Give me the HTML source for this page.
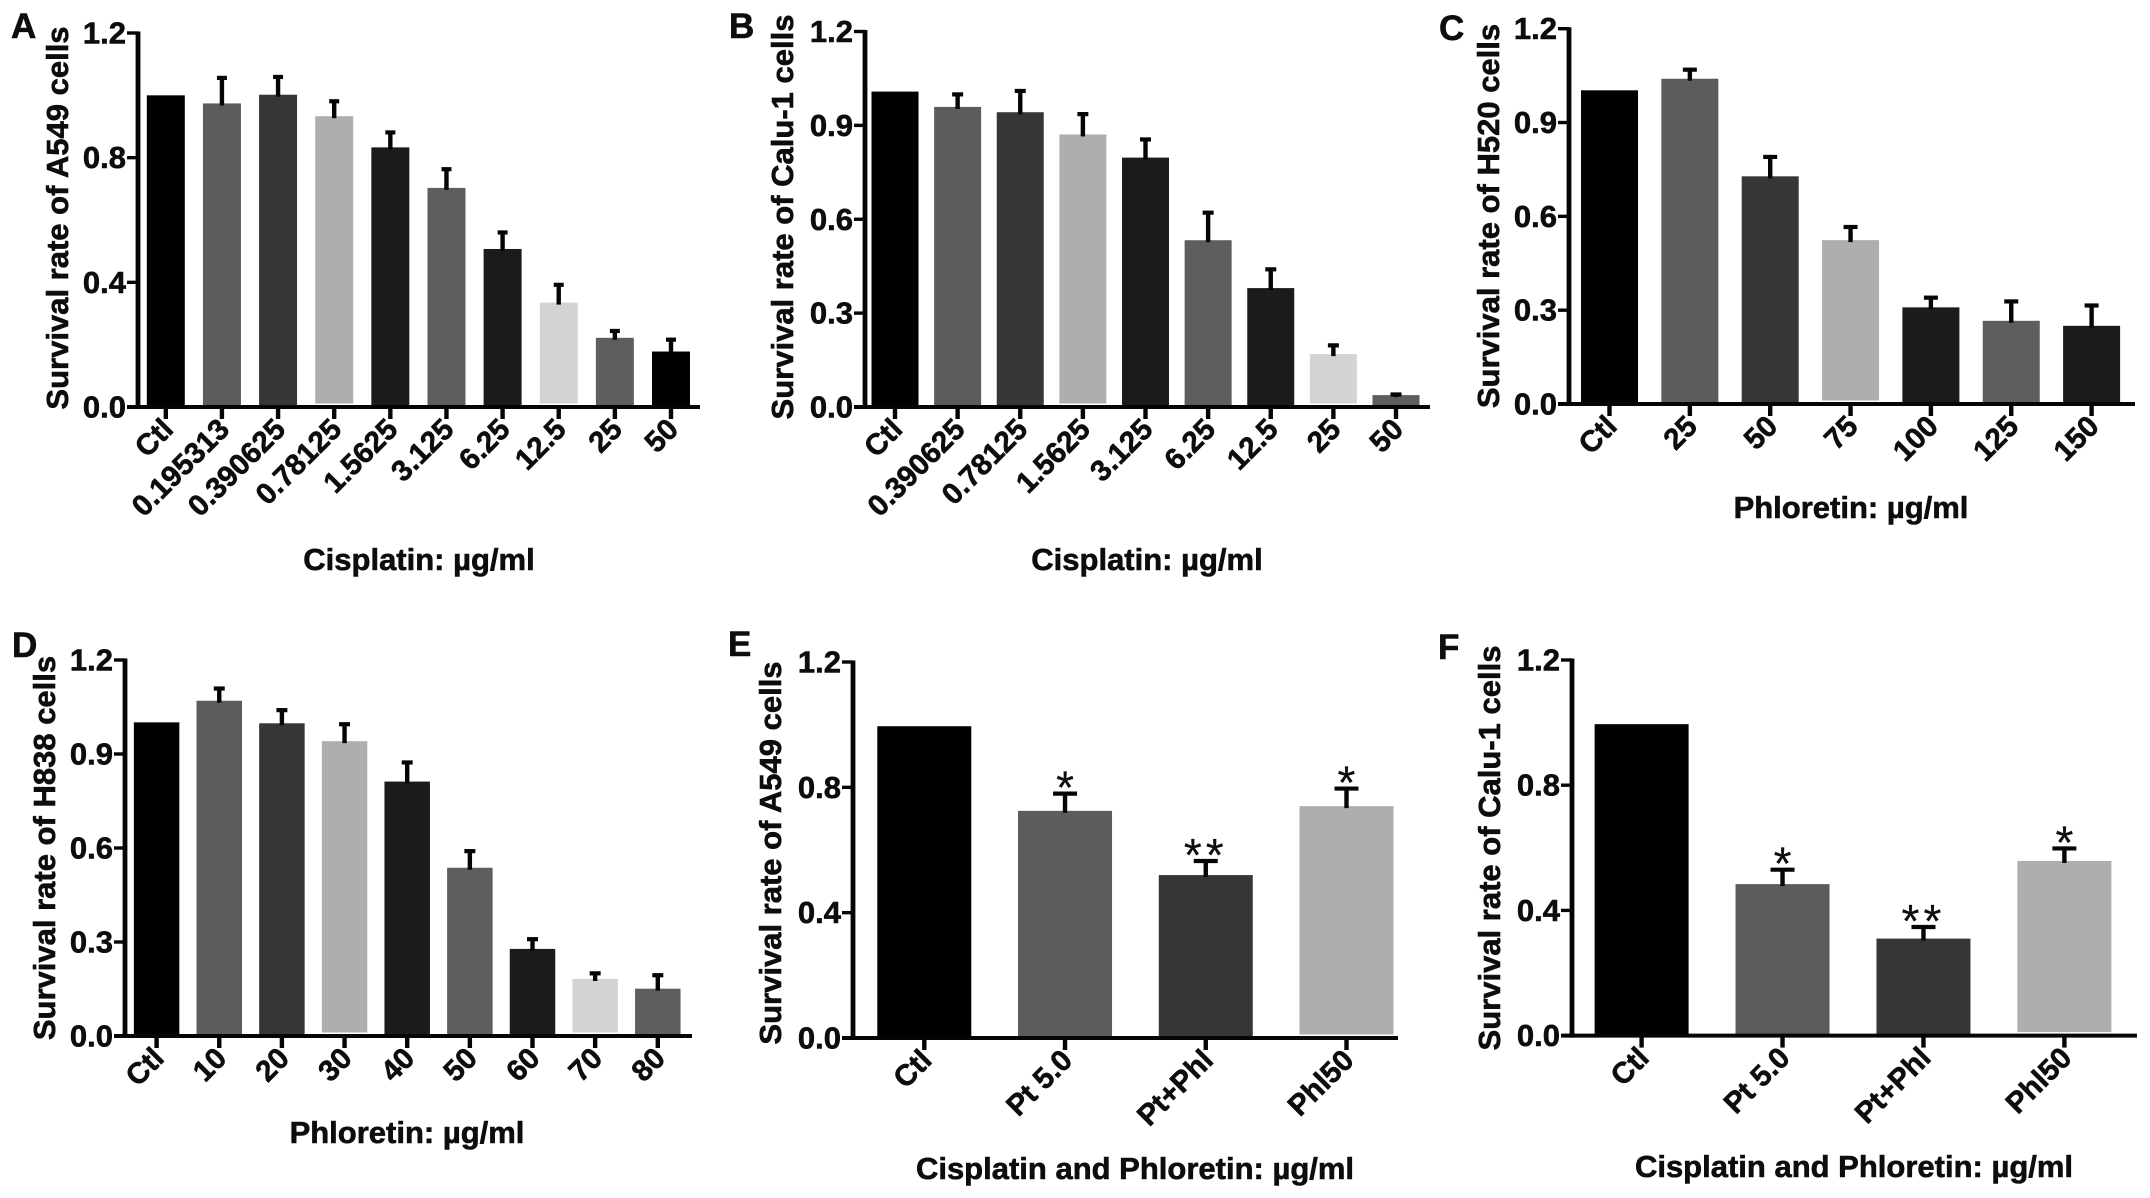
<!DOCTYPE html>
<html lang="en">
<head>
<meta charset="utf-8">
<title>Survival rate of lung cancer cells</title>
<style>
html,body{margin:0;padding:0;background:#fff;}
svg{display:block;width:2150px;height:1198px;}
text{font-family:"Liberation Sans",sans-serif;font-weight:700;fill:#0d0d0d;stroke:#0d0d0d;stroke-width:0.6px;}
</style>
</head>
<body>
<svg id="figure" xmlns="http://www.w3.org/2000/svg" width="2150" height="1198" viewBox="0 0 2150 1198">
  <rect x="0" y="0" width="2150" height="1198" fill="#fff"/>
  <g id="marks"></g>

  <text x="11" y="38" font-size="35">A</text>
  <text x="729" y="38" font-size="35">B</text>
  <text x="1439" y="40" font-size="35">C</text>
  <text x="12" y="657" font-size="35">D</text>
  <text x="728" y="656" font-size="35">E</text>
  <text x="1438" y="659" font-size="35">F</text>

  <text font-size="31" text-anchor="middle" transform="translate(68 218) rotate(-90)">Survival rate of A549 cells</text>
  <text font-size="31" text-anchor="middle" transform="translate(793 217) rotate(-90)">Survival rate of Calu-1 cells</text>
  <text font-size="31" text-anchor="middle" transform="translate(1499 216) rotate(-90)">Survival rate of H520 cells</text>
  <text font-size="31" text-anchor="middle" transform="translate(55 848) rotate(-90)">Survival rate of H838 cells</text>
  <text font-size="31" text-anchor="middle" transform="translate(781 853) rotate(-90)">Survival rate of A549 cells</text>
  <text font-size="31" text-anchor="middle" transform="translate(1500 848) rotate(-90)">Survival rate of Calu-1 cells</text>

  <text font-size="31" text-anchor="middle" x="419" y="570">Cisplatin: µg/ml</text>
  <text font-size="31" text-anchor="middle" x="1147" y="570">Cisplatin: µg/ml</text>
  <text font-size="31" text-anchor="middle" x="1851" y="518">Phloretin: µg/ml</text>
  <text font-size="31" text-anchor="middle" x="407" y="1143">Phloretin: µg/ml</text>
  <text font-size="31" text-anchor="middle" x="1135" y="1179">Cisplatin and Phloretin: µg/ml</text>
  <text font-size="31" text-anchor="middle" x="1854" y="1177">Cisplatin and Phloretin: µg/ml</text>
</svg>
<script>
const categoriesA = ["Ctl","0.195313","0.390625","0.78125","1.5625","3.125","6.25","12.5","25","50"];
const valuesA = [1.0,0.974,1.002,0.933,0.833,0.703,0.507,0.335,0.222,0.178];
const errorsA = [0,0.082,0.057,0.048,0.048,0.06,0.053,0.057,0.022,0.038];
const yTicksA = [0,0.4,0.8,1.2];

const categoriesB = ["Ctl","0.390625","0.78125","1.5625","3.125","6.25","12.5","25","50"];
const valuesB = [1.008,0.959,0.942,0.871,0.797,0.533,0.38,0.169,0.038];
const errorsB = [0,0.04,0.068,0.065,0.058,0.088,0.06,0.028,0.002];
const yTicksB = [0,0.3,0.6,0.9,1.2];

const categoriesC = ["Ctl","25","50","75","100","125","150"];
const valuesC = [1.003,1.04,0.728,0.524,0.309,0.266,0.25];
const errorsC = [0,0.029,0.062,0.042,0.031,0.062,0.065];
const yTicksC = [0,0.3,0.6,0.9,1.2];

const categoriesD = ["Ctl","10","20","30","40","50","60","70","80"];
const valuesD = [1.001,1.07,0.998,0.941,0.812,0.537,0.278,0.182,0.151];
const errorsD = [0,0.039,0.042,0.054,0.061,0.053,0.031,0.018,0.043];
const yTicksD = [0,0.3,0.6,0.9,1.2];

const categoriesE = ["Ctl","Pt 5.0","Pt+Phl","Phl50"];
const valuesE = [0.995,0.725,0.52,0.74];
const errorsE = [0,0.055,0.045,0.056];
const significanceE = ["","*","**","*"];
const yTicksE = [0,0.4,0.8,1.2];

const categoriesF = ["Ctl","Pt 5.0","Pt+Phl","Phl50"];
const valuesF = [0.995,0.484,0.31,0.558];
const errorsF = [0,0.046,0.037,0.04];
const significanceF = ["","*","**","*"];
const yTicksF = [0,0.4,0.8,1.2];

const barShades = ["#000000","#5c5c5c","#363636","#aeaeae","#1b1b1b","#5e5e5e","#1b1b1b","#d3d3d3","#5e5e5e","#000000"];
const yMax = 1.2;
const NS = "http://www.w3.org/2000/svg";
const marks = document.getElementById("marks");

function make(tag, parent, attrs) {
  const el = document.createElementNS(NS, tag);
  for (const key in attrs) el.setAttribute(key, attrs[key]);
  parent.appendChild(el);
  return el;
}

function drawPanel(id, cats, vals, errs, ticks, sig, box) {
  const group = make("g", marks, {});
  
  
  const step = (box.lastCenter - box.firstCenter) / (cats.length - 1);
  const xPos = i => box.firstCenter + i * step;
  const yPos = v => box.base - (v / yMax) * (box.base - box.top);

  vals.forEach((v, i) => {
    const isLight = barShades[i] === "#aeaeae" || barShades[i] === "#d3d3d3";
    const bar = make("rect", group, {
      x: xPos(i) - box.barWidth / 2,
      y: yPos(v),
      width: box.barWidth,
      height: box.base - yPos(v) - (isLight ? 3.5 : 0),
      fill: barShades[i]
    });
    
    

    if (errs[i] > 0) {
      const topY = yPos(v + errs[i]);
      const stem = make("line", group, {
        x1: xPos(i), x2: xPos(i), y1: yPos(v) + 2, y2: topY,
        stroke: "#050505", "stroke-width": 4.4
      });
      
      
      const cap = make("line", group, {
        x1: xPos(i) - box.capWidth / 2, x2: xPos(i) + box.capWidth / 2, y1: topY, y2: topY,
        stroke: "#050505", "stroke-width": 4.2
      });
      
      
    }

    if (sig && sig[i]) {
      const star = make("text", group, {
        x: xPos(i),
        y: yPos(v + errs[i]) + 10,
        "font-size": 46,
        "text-anchor": "middle",
        "letter-spacing": sig[i].length > 1 ? 4 : 0,
        style: "font-weight:400;stroke-width:0.2px"
      });
      star.textContent = sig[i];
      
      
    }

    const tick = make("line", group, {
      x1: xPos(i), x2: xPos(i), y1: box.base, y2: box.base + 12,
      stroke: "#050505", "stroke-width": 4.4
    });
    
    

    const anchorX = xPos(i) + 9;
    const anchorY = box.base + 24;
    const label = make("text", group, {
      "font-size": 29.5,
      "text-anchor": "end",
      transform: "translate(" + anchorX + " " + anchorY + ") rotate(-45)"
    });
    label.textContent = cats[i];
    
    
  });

  ticks.forEach(t => {
    const y = yPos(t);
    const tick = make("line", group, {
      x1: box.axisX - 11, x2: box.axisX, y1: y, y2: y,
      stroke: "#050505", "stroke-width": 3.4
    });
    
    
    const label = make("text", group, {
      x: box.axisX - 12,
      y: y + 10.5,
      "font-size": 31,
      "text-anchor": "end"
    });
    label.textContent = t.toFixed(1);
    
    
  });

  const yAxis = make("line", group, {
    x1: box.axisX, x2: box.axisX, y1: box.top - 1.5, y2: box.base + 2,
    stroke: "#050505", "stroke-width": 4.8
  });
  
  
  const xAxis = make("line", group, {
    x1: box.axisX - 11, x2: box.axisEnd, y1: box.base, y2: box.base,
    stroke: "#050505", "stroke-width": 4
  });
  
  
}

drawPanel("a", categoriesA, valuesA, errorsA, yTicksA, null,
  {axisX:138, axisEnd:700, top:33, base:407, firstCenter:165.8, lastCenter:671, barWidth:38, capWidth:10});
drawPanel("b", categoriesB, valuesB, errorsB, yTicksB, null,
  {axisX:865, axisEnd:1430, top:31.5, base:407, firstCenter:895, lastCenter:1396, barWidth:47, capWidth:11});
drawPanel("c", categoriesC, valuesC, errorsC, yTicksC, null,
  {axisX:1569, axisEnd:2135, top:28.7, base:404, firstCenter:1609.5, lastCenter:2091.6, barWidth:57, capWidth:14});
drawPanel("d", categoriesD, valuesD, errorsD, yTicksD, null,
  {axisX:125, axisEnd:692, top:660, base:1036, firstCenter:156.6, lastCenter:657.8, barWidth:45.5, capWidth:11});
drawPanel("e", categoriesE, valuesE, errorsE, yTicksE, significanceE,
  {axisX:853, axisEnd:1398, top:662, base:1038, firstCenter:924.3, lastCenter:1346.5, barWidth:94, capWidth:24});
drawPanel("f", categoriesF, valuesF, errorsF, yTicksF, significanceF,
  {axisX:1572, axisEnd:2137, top:660, base:1035.6, firstCenter:1641.6, lastCenter:2064.4, barWidth:94, capWidth:24});
</script>
</body>
</html>
